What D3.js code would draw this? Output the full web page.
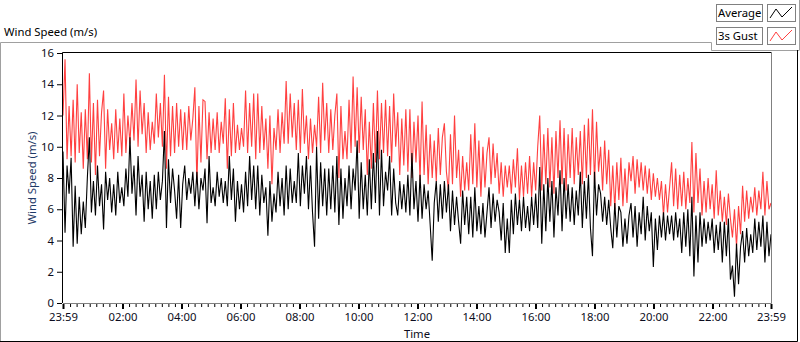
<!DOCTYPE html>
<html>
<head>
<meta charset="utf-8">
<script src="https://cdn.jsdelivr.net/npm/d3@7/dist/d3.min.js"></script>
<style>
  body { margin: 0; background: #fff; }
  svg { display: block; font-family: "Noto Sans", "Open Sans", sans-serif; }
</style>
</head>
<body>
<div id="chart"></div>
<script>
// data (m/s), equally spaced samples from 23:59 to 23:59 next day
const gust = [
  12.0,15.6,9.2,12.6,9.4, 13.0,9.0,14.0,9.6,12.2, 8.6,12.4,9.2,14.7,9.0, 12.8,8.2,13.0,9.4,12.2,
  13.6,8.6,12.4,9.8,11.5, 9.2,12.4,9.6,11.8,9.4, 13.4,9.6,12.0,10.2,12.8, 10.4,14.3,10.0,13.6,10.8,
  12.8,9.6,12.2,9.8,11.6, 10.2,13.4,10.6,12.8,10.0, 14.6,8.6,13.2,9.4,12.6, 9.6,12.8,10.0,12.4,9.8,
  12.2,9.8,12.6,10.4,11.8, 13.8,7.6,12.6,9.0,13.0,
  12.9,9.2,12.2,9.6,11.8, 9.8,12.2,9.6,11.6,10.2, 13.1,8.6,12.4,9.4,12.8, 9.6,11.4,9.8,11.2,10.0,
  13.6,9.6,12.8,10.0,13.4, 9.2,13.4,9.6,12.6,9.8, 11.8,8.6,12.0,7.6,11.2, 9.8,12.4,9.6,12.2,10.2,
  14.2,10.2,13.4,10.6,12.8, 9.8,13.0,9.6,13.7,10.2, 12.0,9.2,11.8,9.6,11.4, 10.0,13.2,9.6,14.1,10.4,
  12.8,9.6,12.4,9.8,12.0, 13.4,8.0,12.6,9.2,11.0,
  9.2,13.0,9.6,14.5,10.0, 13.8,9.6,13.2,9.8,12.4, 8.2,11.6,8.6,12.8,9.0, 13.6,9.2,12.8,9.6,13.0,
  9.4,12.6,9.0,13.4,10.0, 12.2,8.2,11.8,8.8,12.4, 8.4,12.4,8.0,11.6,9.0, 12.0,7.8,12.9,8.2,11.4,
  7.6,10.8,8.0,10.4,7.8, 11.2,8.2,10.6,11.5,8.4, 7.2,10.8,7.6,12.0,8.0, 9.8,6.8,9.4,7.2,9.0,
  7.2,10.8,7.6,11.5,7.4, 10.4,6.8,10.0,7.4,9.6,
  10.6,7.6,10.2,8.0,9.6, 7.0,9.0,6.8,8.8,7.4, 8.8,7.0,9.2,7.4,9.9, 6.6,8.8,6.8,9.0,7.0,
  9.4,6.8,9.0,7.2,10.0, 12.0,7.2,10.8,7.6,11.2, 7.4,10.6,7.0,11.0,8.0, 11.7,7.6,11.2,7.2,10.8,
  8.0,11.2,7.6,10.6,8.2, 11.0,7.6,11.4,8.0,11.8, 8.2,12.4,7.6,11.6,8.4, 10.0,7.2,10.4,7.6,9.8,
  6.2,8.8,6.0,9.0,6.6, 9.3,6.2,8.6,6.4,9.0,
  7.8,9.4,7.0,9.2,7.4, 9.0,7.2,8.8,7.0,8.6, 6.6,8.3,6.8,8.0,6.6, 7.8,5.6,7.6,5.8,7.4,
  9.0,6.2,8.6,6.0,8.2, 6.2,8.4,6.0,8.0,6.4, 10.3,5.8,9.6,6.4,8.6, 5.6,7.8,5.8,8.0,6.0,
  7.6,5.4,8.5,5.6,7.2, 5.2,6.8,5.0,7.0,5.4, 4.2,6.0,3.6,6.2,4.4, 7.5,5.2,7.2,5.4,6.8,
  5.8,7.4,5.6,7.2,6.0, 8.4,5.6,7.8,6.0,6.4
];
const average = [
  9.7,4.5,8.8,7.0,9.3, 3.6,7.5,3.8,6.8,4.4, 6.5,4.8,8.0,10.6,5.8, 7.8,5.6,8.8,6.2,7.6,
  4.7,8.4,6.6,8.0,5.8, 7.6,5.6,8.4,6.4,7.4, 6.2,8.6,6.8,10.6,7.0, 8.8,5.6,9.4,6.8,8.2,
  5.2,8.4,6.0,7.8,5.4, 8.2,6.0,8.4,6.6,7.8, 11.0,4.8,9.2,6.4,8.6, 7.2,5.4,8.2,4.8,7.6,
  8.8,6.6,8.0,7.0,8.4, 6.2,8.4,6.0,8.0,7.2,
  8.6,5.1,9.4,6.4,7.4, 6.2,8.4,6.8,8.0,6.4, 7.8,6.2,9.4,6.6,8.6, 5.2,7.8,6.0,7.6,5.8,
  8.4,6.2,9.4,6.6,8.8, 6.0,8.8,5.6,8.2,6.4, 7.4,4.3,7.8,5.2,7.0, 5.8,8.4,6.2,8.0,5.6,
  8.8,6.0,8.6,6.4,7.8, 6.4,9.6,6.2,8.8,7.0, 9.4,6.0,8.8,5.8,3.6, 10.0,5.4,9.0,6.2,8.6,
  5.6,8.6,6.0,8.8,5.8, 9.4,5.0,8.6,5.4,8.0,
  6.2,8.8,6.0,8.6,7.2, 10.4,5.4,9.0,6.0,8.2, 5.6,9.2,6.0,9.6,6.4, 11.0,5.6,9.8,6.2,8.4,
  7.2,9.4,5.6,8.6,6.4, 5.6,7.8,6.0,7.6,5.8, 8.2,5.6,9.6,6.0,7.8, 5.2,8.2,5.4,7.6,6.0,
  7.2,5.0,2.7,6.4,7.8, 5.2,7.6,5.4,7.8,5.8, 7.6,4.6,7.2,5.0,6.8, 5.2,3.8,7.2,5.0,6.8,
  4.4,6.8,4.2,7.4,4.6, 6.2,4.4,6.4,4.2,5.8,
  7.4,4.8,7.0,5.2,6.6, 5.8,4.0,6.4,3.2,5.4, 3.2,6.6,4.4,7.0,5.0, 6.6,4.6,6.8,4.8,6.2,
  4.6,6.8,5.0,7.0,4.8, 8.7,3.8,7.6,4.6,8.0, 5.2,7.8,4.2,7.4,5.6, 8.5,4.6,8.0,5.4,7.6,
  5.2,7.4,5.0,7.2,5.6, 8.4,4.8,7.8,5.4,8.2, 4.8,3.0,8.4,5.6,7.6, 7.0,5.2,6.8,5.0,6.6,
  4.8,3.5,6.4,4.2,6.2, 5.8,3.6,5.4,3.8,5.6,
  6.4,4.2,6.2,3.6,5.8, 4.4,6.8,4.0,6.2,4.6, 5.8,2.3,5.4,3.4,5.6, 4.2,5.8,4.0,5.6,4.4,
  5.6,4.0,5.8,4.2,5.4, 3.2,5.8,3.6,6.0,3.0, 6.8,1.7,5.6,2.6,5.8, 3.6,5.4,3.8,5.2,4.0,
  5.4,3.2,5.0,3.4,5.2, 2.6,5.2,3.0,5.4,1.5, 2.4,0.4,3.8,1.2,3.6, 4.6,2.6,4.8,3.0,4.4,
  3.2,5.4,3.4,5.2,3.6, 5.6,2.6,5.2,3.0,4.4
];
const seriesNames = ["Average", "3s Gust"];
const seriesColors = ["#000000", "#ff4040"];
const yTicks = [0, 2, 4, 6, 8, 10, 12, 14, 16];
const startTime = new Date(2020, 0, 1, 23, 59);
const endTime = new Date(2020, 0, 2, 23, 59);
const xTickLabels = ["23:59", "02:00", "04:00", "06:00", "08:00", "10:00", "12:00",
  "14:00", "16:00", "18:00", "20:00", "22:00", "23:59"];

const W = 800, H = 342;
const plot = { left: 63, right: 771, top: 53, bottom: 303 };
const fontSize = 11.3;

const svg = d3.select("#chart").append("svg")
  .attr("width", W)
  .attr("height", H);

svg.append("rect").attr("width", W).attr("height", H).attr("fill", "#fff");

// outer panel frame
svg.append("path")
  .attr("d", "M0.5,342 V42.5 H711.5 V50.5 H799.5")
  .attr("fill", "none").attr("stroke", "#a0a0a0");
svg.append("path")
  .attr("d", "M0,341.5 H797.5 V50")
  .attr("fill", "none").attr("stroke", "#000");
svg.append("path")
  .attr("d", "M799.5,0 V50")
  .attr("fill", "none").attr("stroke", "#a0a0a0");

svg.append("text")
  .attr("x", 4).attr("y", 36)
  .attr("font-size", fontSize).attr("fill", "#000")
  .text("Wind Speed (m/s)");

// scales
const x = d3.scaleTime().domain([startTime, endTime]).range([plot.left, plot.right]);
const y = d3.scaleLinear().domain([0, 16]).range([plot.bottom, plot.top]);

const n = gust.length;
const step = (endTime - startTime) / (n - 1);
const times = d3.range(n).map(i => new Date(+startTime + i * step));

const line = d3.line()
  .x((d, i) => x(times[i]))
  .y(d => y(d));

const g = svg.append("g");
g.append("path")
  .datum(gust)
  .attr("fill", "none")
  .attr("stroke", seriesColors[1])
  .attr("stroke-width", 1.1)
  .attr("d", line);
g.append("path")
  .datum(average)
  .attr("fill", "none")
  .attr("stroke", seriesColors[0])
  .attr("stroke-width", 1.1)
  .attr("d", line);

// plot frame: dark top/left, grey bottom/right
svg.append("path")
  .attr("d", `M${plot.left - 0.5},${plot.bottom} V${plot.top - 0.5} H${plot.right + 0.5}`)
  .attr("fill", "none").attr("stroke", "#000");
svg.append("path")
  .attr("d", `M${plot.right + 0.5},${plot.top} V${plot.bottom + 0.5} H${plot.left}`)
  .attr("fill", "none").attr("stroke", "#808080");

// y axis
const yAxis = d3.axisLeft(y).tickValues(yTicks).tickSize(5).tickPadding(3).tickSizeOuter(0);
const yg = svg.append("g")
  .attr("transform", `translate(${plot.left - 1},0)`)
  .call(yAxis);
yg.select(".domain").remove();
yg.selectAll("text").attr("font-size", fontSize).attr("fill", "#0c0c20").attr("font-family", "Noto Sans");
yg.selectAll("line").attr("stroke", "#000");

// x axis
const xTicks = xTickLabels.map((lab, i) => {
  if (i === 0) return startTime;
  if (i === xTickLabels.length - 1) return endTime;
  const [h, m] = lab.split(":").map(Number);
  return new Date(2020, 0, 2, h, m);
});
const xAxis = d3.axisBottom(x).tickValues(xTicks)
  .tickFormat((d, i) => xTickLabels[i]).tickSize(5).tickPadding(4).tickSizeOuter(0);
const xg = svg.append("g")
  .attr("transform", `translate(0,${plot.bottom + 1})`)
  .call(xAxis);
xg.select(".domain").remove();
xg.selectAll(".tick line").attr("stroke", "#000").attr("stroke-width", 2);
xg.selectAll("text").attr("font-size", fontSize).attr("fill", "#0c0c20").attr("font-family", "Noto Sans");

// minor ticks, 9 divisions per 2 h
const minorStep = 2 * 3600 * 1000 / 9;
const anchor = +new Date(2020, 0, 2, 2, 0);
const minor = d3.range(-9, 100).map(j => new Date(anchor + j * minorStep))
  .filter(t => t > startTime && t < endTime && Math.abs(((t - anchor) / minorStep) % 9) > 0.01);
const xMinor = d3.axisBottom(x).tickValues(minor).tickSize(3).tickFormat("").tickSizeOuter(0);
const xm = svg.append("g")
  .attr("transform", `translate(0,${plot.bottom + 1})`)
  .call(xMinor);
xm.select(".domain").remove();
xm.selectAll("line").attr("stroke", "#000");

// axis titles
svg.append("text")
  .attr("transform", `translate(31,${(plot.top + plot.bottom) / 2}) rotate(-90)`)
  .attr("text-anchor", "middle").attr("dominant-baseline", "central")
  .attr("font-size", fontSize).attr("fill", "#1f3a68")
  .text("Wind Speed (m/s)");
svg.append("text")
  .attr("x", (plot.left + plot.right) / 2).attr("y", 338)
  .attr("text-anchor", "middle")
  .attr("font-size", fontSize).attr("fill", "#0c0c20")
  .text("Time");

// legend
const legend = svg.append("g");
seriesNames.forEach((name, i) => {
  const top = 4 + i * 23;
  const row = legend.append("g").attr("transform", `translate(716,${top})`);
  row.append("rect").attr("x", 0.5).attr("y", 0.5).attr("width", 46).attr("height", 17)
    .attr("fill", "#fff").attr("stroke", "#808080");
  row.append("text").attr("x", 2).attr("y", 13)
    .attr("font-size", fontSize).attr("fill", "#000").text(name);
  const sw = legend.append("g").attr("transform", `translate(767,${top})`);
  sw.append("rect").attr("x", 0.5).attr("y", 0.5).attr("width", 28).attr("height", 17)
    .attr("fill", "#fff").attr("stroke", "#808080");
  sw.append("path")
    .attr("d", "M3,14 L9,5 L15,13 L25,3")
    .attr("fill", "none").attr("stroke", seriesColors[i]).attr("stroke-width", 1);
});
</script>
</body>
</html>
